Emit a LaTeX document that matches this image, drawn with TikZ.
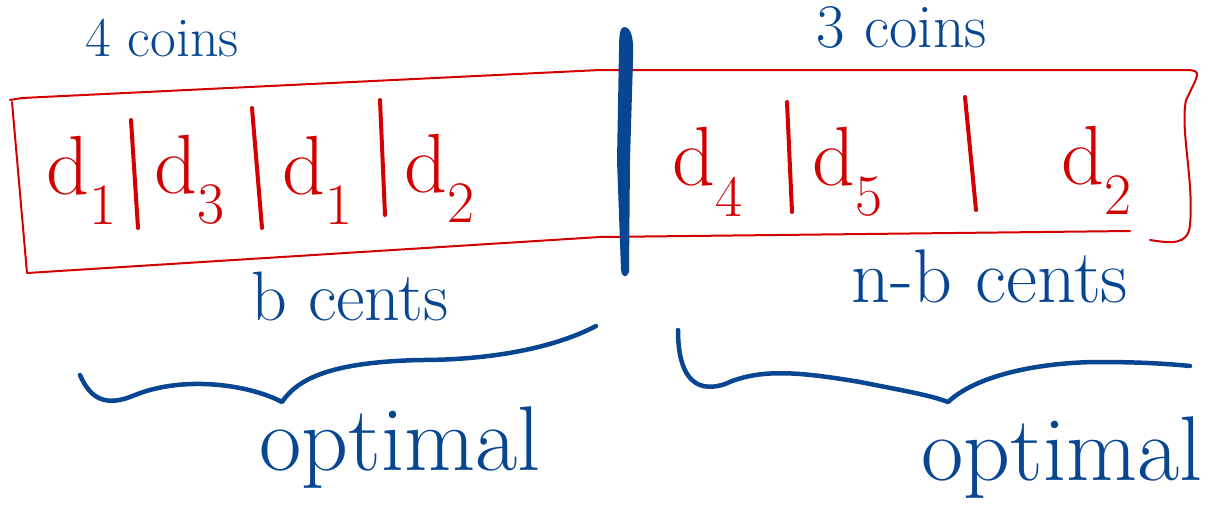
\documentclass[tikz,border=0pt]{standalone}
\usepackage{fontspec}
\definecolor{hred}{RGB}{210,0,0}
\definecolor{hblue}{RGB}{8,70,145}
\newcommand\fsz[1]{\fontsize{#1}{#1}\selectfont}
\newcommand\dsub[1]{d\textsubscript{#1}}
\begin{document}
\begin{tikzpicture}[x=1pt,y=-1pt,
  lbl/.style={text=hblue, inner sep=0pt, anchor=center},
  dd/.style={text=hred, inner sep=0pt, anchor=center, font=\fsz{84}},
  sepline/.style={draw=hred, line width=4pt, line cap=round},
  boxline/.style={draw=hred, line width=2pt, line cap=round, line join=round},
  brace/.style={draw=hblue, line width=4.5pt, line cap=round, line join=round}]
\useasboundingbox (0,0) rectangle (1217,515);
% red box
\draw[boxline] (10,100) -- (22,98) -- (600,70) -- (1190,70) .. controls (1200,72) .. (1186,100) .. controls (1180,130) and (1194,180) .. (1190,225) .. controls (1188,246) and (1170,243) .. (1150,240);
\draw[boxline] (12,102) -- (27,273) -- (600,237) -- (1130,231);
% thick blue divider
\fill[hblue] (624,27) .. controls (632,27) and (634,40) .. (633,60) -- (630,160) -- (629,272) .. controls (627,278) and (622,278) .. (621,270) -- (617,160) -- (619,50) .. controls (619,35) and (620,27) .. (624,27) -- cycle;
% top labels
\node[lbl, font=\fsz{56}] (c4) at (162,38) {4 coins};
\node[lbl, font=\fsz{62}] (c3) at (902,28) {3 coins};
% left coins
\node[dd] (l1) at (82,180) {\dsub{1}};
\draw[sepline] (131,120) -- (138,228);
\node[dd] (l2) at (190,180) {\dsub{3}};
\draw[sepline] (252,108) -- (262,228);
\node[dd] (l3) at (318,180) {\dsub{1}};
\draw[sepline] (380,100) -- (385,215);
\node[dd] (l4) at (440,178) {\dsub{2}};
% right coins
\node[dd] (r1) at (708,172) {\dsub{4}};
\draw[sepline] (787,102) -- (792,212);
\node[dd] (r2) at (848,172) {\dsub{5}};
\draw[sepline] (965,97) -- (976,210);
\node[dd] (r3) at (1097,170) {\dsub{2}};
% below labels
\node[lbl, font=\fsz{70}] (bc) at (350,296) {b cents};
\node[lbl, font=\fsz{76}] (nbc) at (990,276) {n-b cents};
% braces
\draw[brace] (80,375) .. controls (90,398) and (105,408) .. (135,395) .. controls (185,375) and (250,385) .. (282,402) .. controls (300,375) and (340,362) .. (420,360) .. controls (500,360) and (560,345) .. (596,326);
\draw[brace] (678,330) .. controls (678,372) and (692,395) .. (725,384) .. controls (760,368) and (800,372) .. (860,382) .. controls (900,390) and (930,395) .. (948,402) .. controls (980,372) and (1050,362) .. (1100,362) .. controls (1150,362) and (1180,365) .. (1190,366);
% optimal labels
\node[lbl, font=\fsz{92}] (op1) at (400,448) {optimal};
\node[lbl, font=\fsz{92}] (op2) at (1062,458) {optimal};
\end{tikzpicture}
\end{document}
